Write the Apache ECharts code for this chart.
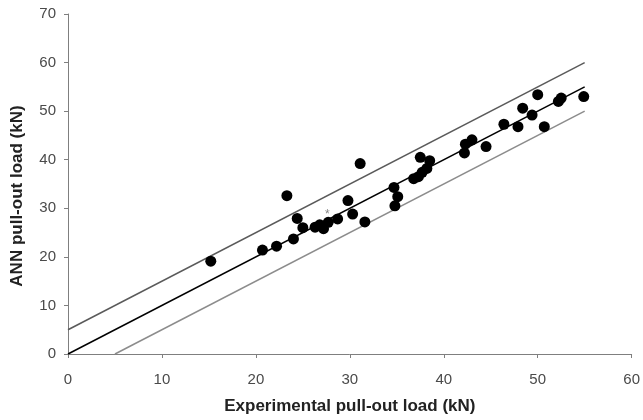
<!DOCTYPE html>
<html><head><meta charset="utf-8">
<script src="https://cdn.jsdelivr.net/npm/echarts@6/dist/echarts.min.js"></script>
<style>html,body{margin:0;padding:0;background:#fff}#c{width:643px;height:420px}</style>
</head><body><div id="c"></div>
<script>
const xTicks = [0, 10, 20, 30, 40, 50, 60];
const yTicks = [0, 10, 20, 30, 40, 50, 60, 70];
const expLoad = [15.2, 20.7, 22.2, 23.3, 24.0, 24.4, 25.0, 26.3, 26.8, 27.2, 27.7, 28.7, 29.8, 30.3, 31.1, 31.6,
  34.7, 35.1, 34.8, 36.8, 37.3, 37.7, 38.2, 37.5, 38.5, 42.2, 42.3, 43.0, 44.5, 46.4, 47.9, 48.4, 49.4, 50.0, 50.7, 52.2, 52.5, 54.9];
const annLoad = [19.1, 21.4, 22.2, 32.6, 23.7, 27.9, 26.0, 26.1, 26.6, 25.8, 27.1, 27.8, 31.6, 28.8, 39.2, 27.2,
  34.3, 32.4, 30.5, 36.1, 36.5, 37.4, 38.2, 40.5, 39.8, 41.4, 43.2, 44.1, 42.7, 47.3, 46.8, 50.6, 49.2, 53.4, 46.8, 52.0, 52.7, 53.0];
const starPoint = [27.6, 29.0];
const lineX = [0, 55];
const perfectLine = [0, 55];
const upperLineX = [0, 55];
const upperLine = [5, 60];
const lowerLineX = [5, 55];
const lowerLine = [0, 50];

const chart = echarts.init(document.getElementById('c'));
const font = 'Liberation Sans, Arial, sans-serif';
const pts = expLoad.map((x, i) => [x, annLoad[i]]);
chart.setOption({
  animation: false,
  grid: {left: 68, right: 10, top: 14, bottom: 65.5, containLabel: false},
  xAxis: {
    type: 'value', min: 0, max: 60, interval: 10,
    name: 'Experimental pull-out load (kN)', nameLocation: 'middle', nameGap: 44,
    nameTextStyle: {fontFamily: font, fontSize: 17, fontWeight: 'bold', color: '#222'},
    axisLine: {lineStyle: {color: '#7f7f7f', width: 1}},
    axisTick: {show: true, inside: false, length: 4, lineStyle: {color: '#7f7f7f'}},
    axisLabel: {fontFamily: font, fontSize: 15, color: '#4a4a4a', margin: 18,
      formatter: v => xTicks.includes(v) ? String(v) : ''},
    splitLine: {show: false}
  },
  yAxis: {
    type: 'value', min: 0, max: 70, interval: 10,
    name: 'ANN pull-out load (kN)', nameLocation: 'middle', nameGap: 42, nameRotate: 90,
    nameTextStyle: {fontFamily: font, fontSize: 17, fontWeight: 'bold', color: '#222', padding: [0, 24, 0, 0]},
    axisLine: {show: true, lineStyle: {color: '#7f7f7f', width: 1}},
    axisTick: {show: true, inside: false, length: 4, lineStyle: {color: '#7f7f7f'}},
    axisLabel: {fontFamily: font, fontSize: 15, color: '#4a4a4a', margin: 12,
      formatter: v => yTicks.includes(v) ? String(v) : ''},
    splitLine: {show: false}
  },
  series: [
    {type: 'line', data: upperLineX.map((x, i) => [x, upperLine[i]]), symbol: 'none',
      lineStyle: {color: '#5a5a5a', width: 1.5}, z: 2},
    {type: 'line', data: lineX.map((x, i) => [x, perfectLine[i]]), symbol: 'none',
      lineStyle: {color: '#000', width: 1.5}, z: 2},
    {type: 'line', data: lowerLineX.map((x, i) => [x, lowerLine[i]]), symbol: 'none',
      lineStyle: {color: '#8c8c8c', width: 1.5}, z: 2},
    {type: 'scatter', data: pts, symbol: 'circle', symbolSize: 11,
      itemStyle: {color: '#000', opacity: 1}, z: 5},
    {type: 'scatter', data: [starPoint], symbolSize: 1, itemStyle: {color: 'rgba(0,0,0,0)'},
      label: {show: true, position: 'inside', formatter: '*', color: '#666', fontSize: 12, fontFamily: font, offset: [0, 2]}, z: 4}
  ]
});
</script></body></html>
